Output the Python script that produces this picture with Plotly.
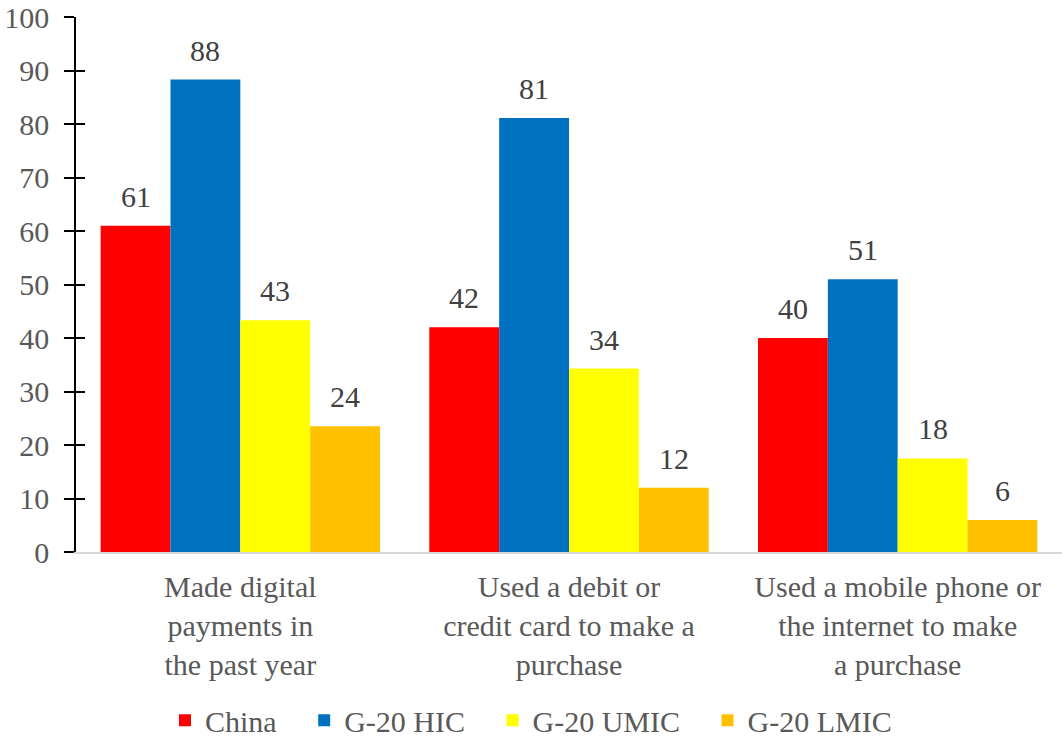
import plotly.graph_objects as go

categories = [
    "Made digital<br>payments in<br>the past year",
    "Used a debit or<br>credit card to make a<br>purchase",
    "Used a mobile phone or<br>the internet to make<br>a purchase",
]
series_names = ["China", "G-20 HIC", "G-20 UMIC", "G-20 LMIC"]
china = [61.0, 42.0, 40.0]
g20_hic = [88.3, 81.1, 51.0]
g20_umic = [43.3, 34.3, 17.5]
g20_lmic = [23.5, 12.0, 6.0]
y_ticks = [0, 10, 20, 30, 40, 50, 60, 70, 80, 90, 100]

series_values = [china, g20_hic, g20_umic, g20_lmic]
colors = ["#FF0000", "#0070C0", "#FFFF00", "#FFC000"]

FONT = "Liberation Serif, Times New Roman, serif"
FS = 30
BARGAP = 0.15
n_series = len(series_names)
bar_w = (1 - BARGAP) / n_series
NBSP = "\u00a0"

fig = go.Figure()
for idx, (name, vals, col) in enumerate(zip(series_names, series_values, colors)):
    # a little extra breathing room between legend entries
    pad = NBSP * 3 if idx < n_series - 1 else ""
    fig.add_trace(go.Bar(
        name=name + pad, x=list(range(len(categories))), y=vals,
        marker=dict(color=col, line=dict(width=0)),
        hovertemplate=name + ": %{y}<extra></extra>",
    ))

# invisible helper so the crossing tick marks on the secondary axis render
fig.add_trace(go.Scatter(x=[0], y=[0], yaxis="y2", mode="markers",
                         marker=dict(opacity=0), showlegend=False, hoverinfo="skip"))

annotations = []
for k, vals in enumerate(series_values):
    for i, v in enumerate(vals):
        annotations.append(dict(
            x=i + (k - (n_series - 1) / 2) * bar_w, y=v, xref="x", yref="y",
            text=f"{v:.0f}", showarrow=False, yanchor="bottom", yshift=11,
            font=dict(family=FONT, size=FS, color="#404040"),
        ))

fig.update_layout(
    width=1062, height=738,
    margin=dict(l=76, r=0, t=17, b=186),
    paper_bgcolor="white", plot_bgcolor="white",
    barmode="group", bargap=BARGAP, bargroupgap=0,
    font=dict(family=FONT, size=FS, color="#595959"),
    showlegend=True,
    legend=dict(orientation="h", x=0.5, xref="container", xanchor="center",
                y=0.024, yref="container", yanchor="middle",
                font=dict(family=FONT, size=FS, color="#595959"),
                traceorder="normal", itemwidth=30),
    annotations=annotations,
    xaxis=dict(
        tickmode="array", tickvals=list(range(len(categories))), ticktext=categories,
        range=[-0.5, len(categories) - 0.5],
        showline=True, linecolor="#D9D9D9", linewidth=1.5,
        showgrid=False, zeroline=False, ticks="",
        ticklabelstandoff=7,
        tickfont=dict(family=FONT, size=FS, color="#595959"),
        automargin=False, fixedrange=True,
    ),
    yaxis=dict(
        range=[0, 100], tickmode="array", tickvals=y_ticks,
        showline=True, linecolor="black", linewidth=1.5,
        ticks="outside", ticklen=10, tickwidth=1.5, tickcolor="black",
        showgrid=False, zeroline=False,
        ticklabelstandoff=9, automargin=True,
        tickfont=dict(family=FONT, size=FS, color="#595959"),
    ),
    yaxis2=dict(
        range=[0, 100], tickmode="array", tickvals=y_ticks,
        overlaying="y", side="left", anchor="x",
        ticks="inside", ticklen=9, tickwidth=1.5, tickcolor="black",
        showticklabels=False, showline=False, showgrid=False, zeroline=False,
    ),
)

fig.write_html("out.html")
